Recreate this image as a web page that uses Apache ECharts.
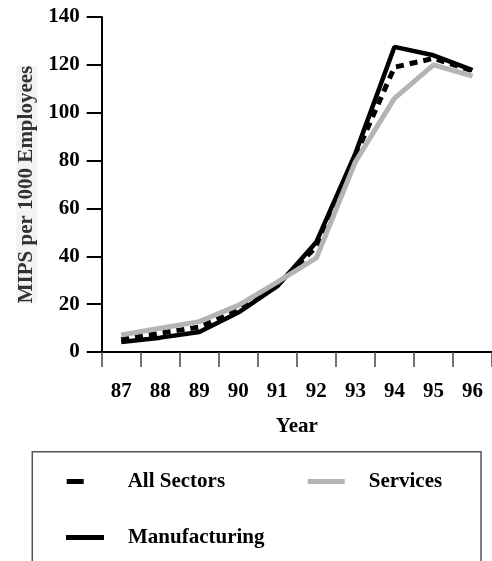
<!DOCTYPE html>
<html>
<head>
<meta charset="utf-8">
<script src="https://cdn.jsdelivr.net/npm/echarts@6/dist/echarts.min.js"></script>
<style>
html,body{margin:0;padding:0;background:#fff;}
#chart{width:492px;height:561px;}
</style>
</head>
<body>
<div id="chart"></div>
<script>
var years = ['87','88','89','90','91','92','93','94','95','96'];
var allSectors = [5.2, 7.9, 10.4, 17.5, 28, 44, 82, 119, 122.7, 117.5];
var manufacturing = [4.2, 6, 8.4, 16.5, 27.5, 46, 83, 127.5, 124, 117.8];
var services = [7.1, 9.9, 12.7, 19.5, 29.2, 39.3, 79.5, 106, 120, 115.3];
var yTicks = {min: 0, max: 140, interval: 20};

var FONT = '"Liberation Serif", "Times New Roman", serif';
var chart = echarts.init(document.getElementById('chart'));
var legendText = {fontFamily: FONT, fontWeight: 'bold', fontSize: 21, color: '#000'};
chart.setOption({
  animation: false,
  grid: {left: 101.7, top: 17, width: 396, height: 335, containLabel: false},
  xAxis: {
    type: 'category',
    data: years,
    boundaryGap: true,
    name: 'Year',
    nameLocation: 'middle',
    nameGap: 64,
    nameTextStyle: {fontFamily: FONT, fontWeight: 'bold', fontSize: 21, color: '#000'},
    axisLine: {lineStyle: {color: '#000', width: 2}},
    axisTick: {show: true, length: 15, lineStyle: {color: '#444', width: 1.5}},
    axisLabel: {margin: 29, fontFamily: FONT, fontWeight: 'bold', fontSize: 21, color: '#000'},
    splitLine: {show: false}
  },
  yAxis: {
    type: 'value',
    min: yTicks.min, max: yTicks.max, interval: yTicks.interval,
    name: 'MIPS per 1000 Employees',
    nameLocation: 'middle',
    nameGap: 57,
    nameTextStyle: {fontFamily: FONT, fontWeight: 'bold', fontSize: 21, color: '#333', backgroundColor: '#f3f3f3'},
    axisLine: {show: true, lineStyle: {color: '#000', width: 2}},
    axisTick: {show: true, length: 15, lineStyle: {color: '#000', width: 2}},
    axisLabel: {margin: 22, fontFamily: FONT, fontWeight: 'bold', fontSize: 21, color: '#000'},
    splitLine: {show: false}
  },
  legend: [
    {data: ['All Sectors'], left: 66.7, top: 471, padding: 0, icon: 'rect', itemWidth: 17, itemHeight: 5,
     itemStyle: {borderWidth: 0}, textStyle: Object.assign({padding: [0,0,0,39]}, legendText)},
    {data: ['Services'], left: 307.7, top: 471, padding: 0, icon: 'rect', itemWidth: 37, itemHeight: 5,
     itemStyle: {borderWidth: 0}, textStyle: Object.assign({padding: [0,0,0,19]}, legendText)},
    {data: ['Manufacturing'], left: 66, top: 527, padding: 0, icon: 'rect', itemWidth: 38, itemHeight: 5,
     itemStyle: {borderWidth: 0}, textStyle: Object.assign({padding: [0,0,0,19]}, legendText)}
  ],
  graphic: [{
    type: 'rect',
    shape: {x: 32.3, y: 451.7, width: 448.7, height: 130},
    style: {fill: 'none', stroke: '#555', lineWidth: 1.5},
    silent: true
  }],
  series: [
    {name: 'All Sectors', type: 'line', data: allSectors, showSymbol: false, symbol: 'none',
     lineStyle: {color: '#000', width: 5, type: [8, 6]}, itemStyle: {color: '#000'}, z: 2},
    {name: 'Manufacturing', type: 'line', data: manufacturing, showSymbol: false, symbol: 'none',
     lineStyle: {color: '#000', width: 4.5}, itemStyle: {color: '#000'}, z: 3},
    {name: 'Services', type: 'line', data: services, showSymbol: false, symbol: 'none',
     lineStyle: {color: '#b4b4b4', width: 5}, itemStyle: {color: '#b4b4b4'}, z: 4}
  ]
});
</script>
</body>
</html>
